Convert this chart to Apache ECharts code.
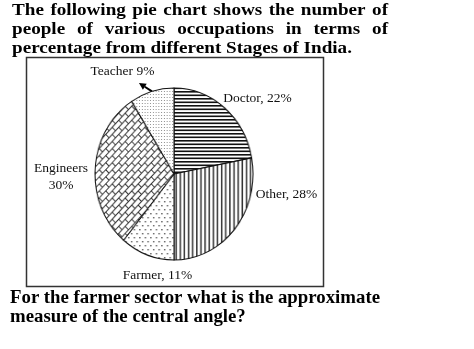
<!DOCTYPE html>
<html>
<head>
<meta charset="utf-8">
<script src="https://cdn.jsdelivr.net/npm/echarts@6/dist/echarts.min.js"></script>
<style>
  html, body { margin: 0; padding: 0; background: #fff; }
  #wrap { position: relative; width: 474px; height: 349px; }
  #main, #pie { position: absolute; left: 0; top: 0; width: 474px; height: 349px; }
  /* the pie is drawn slightly narrower than it is tall */
  #pie { transform-origin: 174px 174px; transform: scaleX(0.919); }
</style>
</head>
<body>
<div id="wrap"><div id="main"></div><div id="pie"></div></div>
<script>
// ---- data ----
const occupations = ['Doctor', 'Other', 'Farmer', 'Engineers', 'Teacher'];
const shares = [22, 28, 11, 30, 9];
const labelFormats = ['{n}, {v}%', '{n}, {v}%', '{n}, {v}%', '{n}\n{v}%', '{n} {v}%'];
const headingLines = [
  'The following pie chart shows the number of',
  'people of various occupations in terms of',
  'percentage from different Stages of India.'
];
const questionLines = [
  'For the farmer sector what is the approximate',
  'measure of the central angle?'
];

// ---- layout ----
const CX = 174, CY = 174, R = 86, X_SCALE = 0.919;
const labelAnchors = [[257.5, 98.5], [286.5, 194], [157.5, 275], [61, 177], [122.5, 71]];
const SERIF = '"Liberation Serif", "Times New Roman", serif';

// ---- hatch patterns ----
function tile(w, h, draw) {
  const c = document.createElement('canvas');
  c.width = w; c.height = h;
  const g = c.getContext('2d');
  g.fillStyle = '#fff';
  g.fillRect(0, 0, w, h);
  draw(g);
  return c;
}
const horizontalStripes = tile(8, 7, g => {
  g.fillStyle = '#111';
  g.fillRect(0, 0, 8, 1.6);
  g.fillRect(0, 3.5, 8, 1.6);
});
const verticalStripes = tile(9, 8, g => {
  g.fillStyle = '#333';
  g.fillRect(0, 0, 1.6, 8);
  g.fillRect(4.5, 0, 1.6, 8);
});
const staggeredDots = tile(6, 8, g => {
  g.fillStyle = '#666';
  g.fillRect(1, 1, 1.6, 1.4);
  g.fillRect(4, 5, 1.6, 1.4);
});
const bricks = tile(20, 10, g => {
  g.strokeStyle = '#333';
  g.lineWidth = 1;
  g.beginPath();
  g.moveTo(0, 0.5); g.lineTo(20, 0.5);
  g.moveTo(0, 5.5); g.lineTo(20, 5.5);
  g.moveTo(0.5, 0); g.lineTo(0.5, 5.5);
  g.moveTo(10.5, 0); g.lineTo(10.5, 5.5);
  g.moveTo(5.5, 5.5); g.lineTo(5.5, 10);
  g.moveTo(15.5, 5.5); g.lineTo(15.5, 10);
  g.stroke();
});
const fineDots = tile(3, 3, g => {
  g.fillStyle = '#888';
  g.fillRect(1, 1, 1, 1);
});
const fills = [
  { image: horizontalStripes, repeat: 'repeat' },
  { image: verticalStripes, repeat: 'repeat' },
  { image: staggeredDots, repeat: 'repeat' },
  { image: bricks, repeat: 'repeat', rotation: -Math.PI / 4 },
  { image: fineDots, repeat: 'repeat' }
];

// ---- pie ----
const pieChart = echarts.init(document.getElementById('pie'), null, { renderer: 'canvas' });
pieChart.setOption({
  animation: false,
  series: [{
    type: 'pie',
    center: [CX, CY],
    radius: [0, R],
    startAngle: 90,
    clockwise: true,
    label: { show: false },
    labelLine: { show: false },
    emphasis: { disabled: true },
    itemStyle: { borderColor: '#111', borderWidth: 1.1 },
    data: occupations.map((n, i) => ({
      name: n,
      value: shares[i],
      itemStyle: { color: fills[i] }
    }))
  }]
});

// ---- text, frame, arrow ----
const measure = document.createElement('canvas').getContext('2d');
// one line of bold text, stretched horizontally by sx; justified lines spread words over width
function textLine(line, font, sx, left, width, y, justify) {
  const base = { fill: '#000', align: 'left', verticalAlign: 'middle', font: font };
  if (!justify) {
    return [{ type: 'text', x: left, y: y, scaleX: sx, style: Object.assign({ text: line }, base) }];
  }
  measure.font = font;
  const words = line.split(' ');
  const widths = words.map(w => measure.measureText(w).width * sx);
  const gap = (width - widths.reduce((a, b) => a + b, 0)) / (words.length - 1);
  const out = [];
  let x = left;
  words.forEach((w, i) => {
    out.push({ type: 'text', x: x, y: y, scaleX: sx, style: Object.assign({ text: w }, base) });
    x += widths[i] + gap;
  });
  return out;
}

const graphics = [];
const headFont = 'bold 17px ' + SERIF;
headingLines.forEach((line, i) => {
  graphics.push(...textLine(line, headFont, 1.125, 12, 376, 10.5 + i * 19, i < headingLines.length - 1));
});
const qFont = 'bold 18px ' + SERIF;
questionLines.forEach((line, i) => {
  graphics.push(...textLine(line, qFont, 1.045, 10, 370, 298.5 + i * 19, i < questionLines.length - 1));
});

// frame around the pie
graphics.push({
  type: 'rect',
  shape: { x: 26.5, y: 57.5, width: 297, height: 229 },
  style: { fill: 'none', stroke: '#333', lineWidth: 1.5 }
});

// slice labels
const total = shares.reduce((a, b) => a + b, 0);
occupations.forEach((n, i) => {
  const txt = labelFormats[i].replace('{n}', n).replace('{v}', Math.round(shares[i] / total * 100));
  graphics.push({
    type: 'text', x: labelAnchors[i][0], y: labelAnchors[i][1],
    style: { text: txt, font: '13.5px ' + SERIF, fill: '#111', align: 'center',
             verticalAlign: 'middle', lineHeight: 17 }
  });
});

// arrow from the small teacher slice up to its label
const before = shares.slice(0, 4).reduce((a, b) => a + b, 0);
const midAngle = (before + shares[4] / 2) / total * 2 * Math.PI;
const sx = CX + R * X_SCALE * Math.sin(midAngle);
const sy = CY - R * Math.cos(midAngle);
const ex = sx - 13, ey = sy - 8.5;
const ang = Math.atan2(ey - sy, ex - sx);
const headLen = 7, headW = 3.5;
const bx = ex - headLen * Math.cos(ang), by = ey - headLen * Math.sin(ang);
graphics.push({
  type: 'line',
  shape: { x1: sx, y1: sy, x2: bx, y2: by },
  style: { stroke: '#000', lineWidth: 2 }
});
graphics.push({
  type: 'polygon',
  shape: { points: [
    [ex, ey],
    [bx + headW * Math.sin(ang), by - headW * Math.cos(ang)],
    [bx - headW * Math.sin(ang), by + headW * Math.cos(ang)]
  ] },
  style: { fill: '#000' }
});

const mainChart = echarts.init(document.getElementById('main'), null, { renderer: 'canvas' });
mainChart.setOption({
  backgroundColor: '#fff',
  animation: false,
  graphic: graphics
});
</script>
</body>
</html>
